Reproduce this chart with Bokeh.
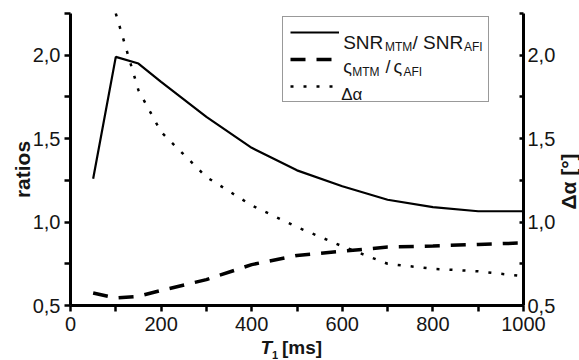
import math

from bokeh.plotting import figure
from bokeh.models import (Range1d, LinearAxis, FixedTicker, CustomJSTickFormatter,
                          Label, Legend, LegendItem)
from bokeh.embed import file_html
from bokeh.resources import INLINE

# T1 relaxation times [ms] and the measured ratios
t1_ms = [50, 100, 150, 200, 300, 400, 500, 600, 700, 800, 900, 1000]
snr_ratio = [1.26, 1.99, 1.95, 1.84, 1.63, 1.445, 1.31, 1.215, 1.134, 1.09, 1.065, 1.065]
sigma_ratio = [0.575, 0.545, 0.555, 0.59, 0.655, 0.745, 0.80, 0.825, 0.85, 0.857, 0.866, 0.875]

# flip-angle deviation [deg], right axis
t1_alpha_ms = [100, 150, 200, 300, 400, 500, 600, 700, 800, 900, 1000]
delta_alpha = [2.25, 1.79, 1.54, 1.27, 1.10, 0.97, 0.855, 0.75, 0.72, 0.705, 0.675]

x_major = [0, 200, 400, 600, 800, 1000]
x_minor = [100, 300, 500, 700, 900]
y_major = [0.5, 1.0, 1.5, 2.0]
y_minor = [0.75, 1.25, 1.75, 2.25]
X_LIM = (0, 1000)
Y_LIM = (0.5, 2.25)

FONT = "Liberation Sans"
INK = "#151515"
W, H = 579, 360

# the axes sit inside the canvas at these pixel edges; the plotting frame
# covers the whole canvas so that titles outside the axes are not clipped
AX_L, AX_R, AX_T, AX_B = 70, 523, 13, 305
sx = (X_LIM[1] - X_LIM[0]) / (AX_R - AX_L)
sy = (Y_LIM[1] - Y_LIM[0]) / (AX_B - AX_T)
x_range = Range1d(X_LIM[0] - AX_L * sx, X_LIM[1] + (W - AX_R) * sx)
y_range = Range1d(Y_LIM[0] - (H - AX_B) * sy, Y_LIM[1] + AX_T * sy)

p = figure(width=W, height=H, output_backend="svg", toolbar_location=None,
           x_range=x_range, y_range=y_range,
           x_axis_location=None, y_axis_location=None, min_border=0)
p.extra_y_ranges = {"alpha": Range1d(y_range.start, y_range.end)}
p.outline_line_color = None
p.grid.visible = False
p.background_fill_color = "white"
p.border_fill_color = "white"

COMMA = "return tick.toFixed(1).replace('.', ',');"


def style_axis(ax, tick_in, tick_out):
    ax.axis_line_width = 3
    ax.axis_line_color = "black"
    ax.major_tick_line_width = 2.5
    ax.minor_tick_line_width = 2.5
    ax.major_tick_line_color = "black"
    ax.minor_tick_line_color = "black"
    ax.major_tick_in = tick_in
    ax.major_tick_out = tick_out
    ax.minor_tick_in = tick_in
    ax.minor_tick_out = tick_out
    ax.major_label_text_font = FONT
    ax.major_label_text_font_size = "20px"
    ax.major_label_text_color = INK
    ax.major_label_standoff = 4


ax_b = LinearAxis(fixed_location=Y_LIM[0], bounds=X_LIM,
                  ticker=FixedTicker(ticks=x_major, minor_ticks=x_minor))
style_axis(ax_b, 0, 6)
ax_b.major_label_standoff = 5
p.add_layout(ax_b, "below")

ax_l = LinearAxis(fixed_location=X_LIM[0], bounds=Y_LIM,
                  ticker=FixedTicker(ticks=y_major, minor_ticks=y_minor),
                  formatter=CustomJSTickFormatter(code=COMMA))
style_axis(ax_l, 0, 6)
p.add_layout(ax_l, "left")

ax_r = LinearAxis(fixed_location=X_LIM[1], bounds=Y_LIM, y_range_name="alpha",
                  ticker=FixedTicker(ticks=y_major, minor_ticks=y_minor),
                  formatter=CustomJSTickFormatter(code=COMMA))
style_axis(ax_r, 4, 0)
p.add_layout(ax_r, "right")

r_snr = p.line(t1_ms, snr_ratio, line_color="black", line_width=2.2)
r_sig = p.line(t1_ms, sigma_ratio, line_color="black", line_width=3.5, line_dash="15 11")
r_da = p.line(t1_alpha_ms, delta_alpha, y_range_name="alpha", line_color="black",
              line_width=2.5, line_dash="3 10")

# legend box with sample lines; its texts are laid on top as labels
legend = Legend(items=[LegendItem(label=" ", renderers=[r_snr]),
                       LegendItem(label=" ", renderers=[r_sig]),
                       LegendItem(label=" ", renderers=[r_da])],
                location=(281.7, H - 102), orientation="vertical",
                glyph_width=49, glyph_height=16, label_width=142, label_height=16,
                label_standoff=0, label_text_font_size="1px",
                padding=7, spacing=11, margin=0,
                border_line_color="#333333", border_line_width=1,
                background_fill_alpha=0.0)
p.add_layout(legend)


def label(text, X, Y, size, bold=False, italic=False, angle=0.0, align="left",
          baseline="alphabetic"):
    style = "bold italic" if (bold and italic) else ("bold" if bold else ("italic" if italic else "normal"))
    p.add_layout(Label(x=X, y=H - Y, x_units="screen", y_units="screen",
                       text=text, text_font=FONT, text_font_size=f"{size}px",
                       text_font_style=style, text_color=INK, angle=angle,
                       text_align=align, text_baseline=baseline, level="overlay"))


# legend texts
label("SNR", 342.7, 41.7, 19)
label("MTM", 384.5, 46.7, 12)
label("/ SNR", 412, 41.7, 19)
label("AFI", 463.5, 46.7, 12)
label("\u03c2", 342.7, 66.5, 18)
label("MTM", 351.7, 71.7, 12)
label("/", 385, 66.5, 18)
label("\u03c2", 393, 66.5, 18)
label("AFI", 403, 71.7, 12)
label("\u0394\u03b1", 340.7, 94, 17)

# axis titles
label("ratios", 22, 169, 21, bold=True, angle=math.pi / 2, align="center", baseline="middle")
label("\u0394\u03b1 [\u00b0]", 567.5, 181, 21, bold=True, angle=math.pi / 2, align="center",
      baseline="middle")
label("T", 260, 346.7, 19, bold=True, italic=True)
label("1", 271.5, 354.5, 11, bold=True)
label("[ms]", 281.5, 346.7, 19, bold=True)

open("out.html", "w").write(file_html(p, INLINE))
